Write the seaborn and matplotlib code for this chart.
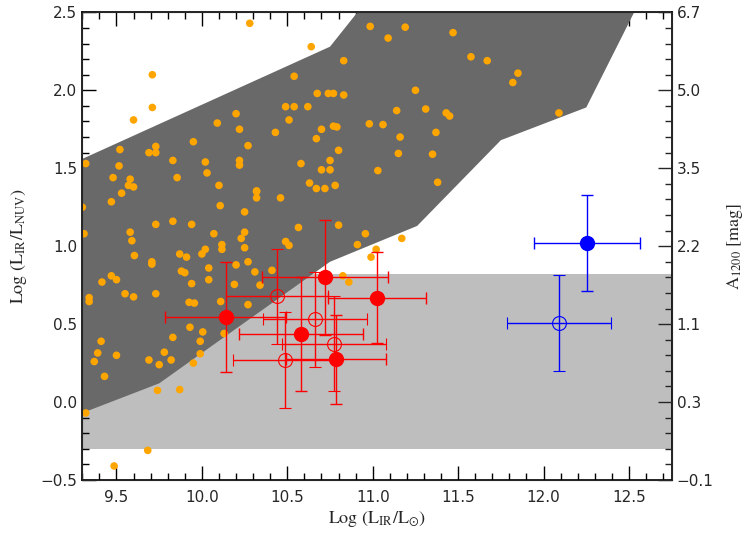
import matplotlib
matplotlib.use('Agg')
import numpy as np
import matplotlib.pyplot as plt
import seaborn as sns
from matplotlib.ticker import MultipleLocator

sns.set_style("ticks")
plt.rcParams['font.family'] = ['DejaVu Sans']
plt.rcParams['mathtext.fontset'] = 'stix'

# orange sample
orange_x = [10.28, 10.64, 9.71, 9.71, 9.60, 10.54, 10.675, 10.74, 10.77, 10.20, 10.49, 10.54, 10.62,
            10.51, 10.09, 10.22, 10.70, 10.77, 10.79, 10.67, 10.43, 9.95, 9.73, 9.69, 9.73, 10.27,
            9.52, 9.32, 9.515, 9.83, 10.02, 10.22, 10.22, 10.58, 10.75, 10.80, 9.48, 9.58, 9.855,
            10.03, 9.57, 9.60, 9.53, 10.10, 10.32, 10.63, 10.67, 10.72, 10.78, 10.75, 10.70,
            10.985, 11.19, 11.09, 11.47, 10.83, 11.575, 11.67, 11.85, 11.82, 12.09, 11.25, 10.83,
            11.14, 11.31, 11.43, 11.45, 10.98, 11.06, 11.16, 11.37, 11.15, 11.35, 11.03, 11.38,
            9.47, 10.32, 10.32, 10.107, 10.25, 10.46, 9.73, 9.83, 9.94, 9.58, 9.59, 10.07, 10.25,
            10.23, 10.117, 10.117, 10.25, 10.02, 10.0, 9.605, 9.87, 9.91, 9.707, 9.707, 9.88, 9.90,
            10.04, 10.04, 10.20, 10.27, 10.31, 10.41, 10.49, 10.51, 10.565, 9.47, 9.50, 9.415,
            9.94, 10.19, 10.34, 9.55, 9.60, 9.73, 9.34, 9.34, 9.925, 9.956, 10.11, 10.27, 9.93,
            10.005, 10.13, 9.83, 9.99, 9.41, 9.39, 9.37, 9.50, 9.78, 9.69, 9.75, 9.82, 9.99, 9.95,
            9.43, 9.74, 9.87, 9.30, 9.31,
            10.80, 10.957, 10.91, 11.02, 10.99, 11.17, 10.825, 10.86,
            9.32, 9.486, 9.683]
orange_y = [2.43, 2.28, 2.10, 1.89, 1.81, 2.09, 1.98, 1.98, 1.98, 1.85, 1.895, 1.895, 1.895,
            1.81, 1.79, 1.75, 1.75, 1.77, 1.765, 1.69, 1.73, 1.67, 1.64, 1.60, 1.60, 1.645,
            1.62, 1.53, 1.515, 1.55, 1.54, 1.55, 1.52, 1.53, 1.55, 1.615, 1.44, 1.43, 1.44,
            1.47, 1.39, 1.38, 1.34, 1.39, 1.355, 1.405, 1.37, 1.37, 1.39, 1.49, 1.49,
            2.41, 2.405, 2.335, 2.37, 2.19, 2.215, 2.19, 2.11, 2.05, 1.855, 2.0, 1.97,
            1.87, 1.88, 1.855, 1.835, 1.785, 1.78, 1.70, 1.73, 1.595, 1.59, 1.485, 1.41,
            1.285, 1.35, 1.31, 1.26, 1.22, 1.31, 1.14, 1.16, 1.14, 1.09, 1.035, 1.08, 1.09,
            1.05, 1.01, 0.98, 0.99, 0.98, 0.95, 0.94, 0.95, 0.93, 0.90, 0.885, 0.84, 0.83,
            0.86, 0.785, 0.88, 0.90, 0.835, 0.845, 1.03, 1.005, 1.12, 0.81, 0.785, 0.77,
            0.76, 0.755, 0.75, 0.695, 0.675, 0.695, 0.67, 0.645, 0.64, 0.635, 0.645, 0.625, 0.48,
            0.45, 0.44, 0.415, 0.39, 0.39, 0.315, 0.26, 0.30, 0.32, 0.27, 0.24, 0.27, 0.31, 0.25,
            0.165, 0.075, 0.08, 1.25, 1.08,
            1.135, 1.08, 1.01, 0.98, 0.93, 1.05, 0.81, 0.77,
            -0.07, -0.41, -0.31]

# shaded regions
poly_x = [9.3, 9.75, 10.75, 11.26, 11.75, 12.25, 12.53, 10.91, 10.75, 9.3]
poly_y = [-0.07, 0.12, 0.90, 1.13, 1.68, 1.89, 2.5, 2.5, 2.28, 1.56]
band_lo, band_hi = -0.30, 0.82

# red sample: filled and open
red_x = [10.14, 10.72, 11.025, 10.58, 10.785]
red_y = [0.545, 0.80, 0.67, 0.435, 0.275]
red_xerr = [0.355, 0.37, 0.285, 0.365, 0.29]
red_yerr = [0.355, 0.37, 0.29, 0.365, 0.285]
red_open_x = [10.44, 10.66, 10.775, 10.485]
red_open_y = [0.68, 0.53, 0.375, 0.27]
red_open_xerr = [0.30, 0.305, 0.305, 0.305]
red_open_yerr = [0.305, 0.305, 0.305, 0.305]

# blue sample
blue_x, blue_y, blue_err = [12.255], [1.02], [0.31]
blue_open_x, blue_open_y, blue_open_err = [12.09], [0.505], [0.307]

# right axis labels
left_ticks = [-0.5, 0.0, 0.5, 1.0, 1.5, 2.0, 2.5]
a1200_labels = ['\u22120.1', '0.3', '1.1', '2.2', '3.5', '5.0', '6.7']

fig = plt.figure(figsize=(7.47, 5.4), dpi=100)
ax = fig.add_axes([0.1102, 0.1111, 0.789, 0.866])

ax.axhspan(band_lo, band_hi, color='#bebebe', lw=0, zorder=0)
ax.fill(poly_x, poly_y, color='#696969', lw=0, zorder=1)

sns.scatterplot(x=orange_x, y=orange_y, color='orange', s=30, edgecolor='none', zorder=3, ax=ax)

eb = dict(fmt='o', capsize=4, elinewidth=1, capthick=1, zorder=4)
ax.errorbar(red_x, red_y, xerr=red_xerr, yerr=red_yerr, color='red', ms=10, **eb)
ax.errorbar(red_open_x, red_open_y, xerr=red_open_xerr, yerr=red_open_yerr, color='red',
            ms=10, mfc='none', mew=0.8, **eb)
ax.errorbar(blue_x, blue_y, xerr=blue_err, yerr=blue_err, color='blue', ms=10, **eb)
ax.errorbar(blue_open_x, blue_open_y, xerr=blue_open_err, yerr=blue_open_err, color='blue',
            ms=10, mfc='none', mew=0.8, **eb)

ax.set_xlim(9.3, 12.75)
ax.set_ylim(-0.5, 2.5)
ax.set_yticks(left_ticks)
ax.set_yticklabels(['\u22120.5', '0.0', '0.5', '1.0', '1.5', '2.0', '2.5'])
ax.xaxis.set_major_locator(MultipleLocator(0.5))
ax.xaxis.set_minor_locator(MultipleLocator(0.1))
ax.yaxis.set_minor_locator(MultipleLocator(0.1))
ax.tick_params(which='both', direction='in', top=True, right=False, labelsize=11, width=1, color='black')
ax.tick_params(which='major', length=10)
ax.tick_params(which='minor', length=5)
ax.tick_params(axis='x', which='major', pad=7)
for s in ax.spines.values():
    s.set_linewidth(1.2)
    s.set_color('black')

ax2 = ax.twinx()
ax2.set_ylim(-0.5, 2.5)
ax2.set_yticks(left_ticks)
ax2.set_yticklabels(a1200_labels)
ax2.yaxis.set_minor_locator(MultipleLocator(0.1))
ax2.tick_params(which='both', direction='in', labelsize=11, width=1)
ax2.tick_params(which='major', length=10)
ax2.tick_params(which='minor', length=5)

ax.set_xlabel(r'Log (L$_{\rm IR}$/L$_{\odot}$)', family='STIXGeneral', fontsize=13, labelpad=3)
ax.set_ylabel(r'Log (L$_{\rm IR}$/L$_{\rm NUV}$)', family='STIXGeneral', fontsize=13, labelpad=8)
ax2.set_ylabel(r'A$_{1200}$ [mag]', family='STIXGeneral', fontsize=13, labelpad=8)

fig.savefig('out.png', dpi=100)
